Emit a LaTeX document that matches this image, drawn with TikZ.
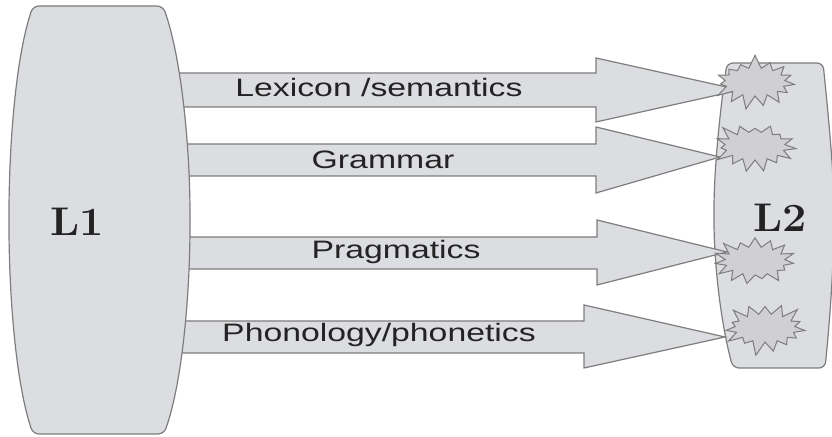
\documentclass[tikz,border=0pt]{standalone}
\usepackage{fontspec}
\usepackage{tikz}
\usetikzlibrary{shapes.symbols}
\newfontfamily\arialfont{Liberation Sans}
\definecolor{boxfill}{RGB}{220,221,224}
\definecolor{burstfill}{RGB}{208,208,210}
\definecolor{edgegray}{RGB}{125,125,125}
\definecolor{inkgray}{RGB}{35,35,35}

\begin{document}
\begin{tikzpicture}[x=0.5pt, y=-0.5pt,
    lang/.style={fill=boxfill, draw=edgegray, line width=0.6pt, rounded corners=3pt},
    band/.style={fill=boxfill, draw=edgegray, line width=0.6pt},
    burst/.style={starburst, fill=burstfill, draw=edgegray, line width=0.5pt, minimum width=44pt, minimum height=28pt, starburst points=15, starburst point height=7pt, inner sep=0pt},
    lbl/.style={font=\arialfont\fontsize{12.6}{14}\selectfont, text=inkgray, xscale=1.34, transform shape, inner sep=0pt},
    big/.style={font=\fontsize{20}{22}\selectfont\bfseries, text=inkgray, xscale=1.08, transform shape, inner sep=0pt}]
    \useasboundingbox (0,0) rectangle (832,437);

    % L2 block
    \draw[lang] (714,215) .. controls (714,170) and (720,110) .. (727,63) -- (823,63)
        .. controls (830,130) and (834,180) .. (834,215)
        .. controls (834,260) and (830,320) .. (825,368) -- (733,368)
        .. controls (720,320) and (714,260) .. cycle;

    % Arrows
    \draw[band] (170,73) -- (596,73) -- (596,58) -- (740,90) -- (596,122) -- (596,107) -- (170,107) -- cycle;
    \draw[band] (170,144) -- (596,144) -- (596,127) -- (720,157) -- (596,193) -- (596,176) -- (170,176) -- cycle;
    \draw[band] (170,237) -- (597,237) -- (597,220) -- (727,252) -- (597,285) -- (597,269) -- (170,269) -- cycle;
    \draw[band] (170,321) -- (584,321) -- (584,305) -- (725,337) -- (584,368) -- (584,353) -- (170,353) -- cycle;

    % L1 block
    \draw[lang] (9,220) .. controls (9,150) and (15,60) .. (33,6) -- (163,6)
        .. controls (182,60) and (190,150) .. (190,220)
        .. controls (190,290) and (183,380) .. (164,434) -- (33,434)
        .. controls (15,380) and (9,290) .. cycle;

    % Labels
    \node[big] (l1) at (77,222) {L1};
    \node[big] (l2) at (780,218) {L2};
    \node[lbl] (lex) at (379,88) {Lexicon /semantics};
    \node[lbl] (gram) at (383,160) {Grammar};
    \node[lbl] (prag) at (396,252) {Pragmatics};
    \node[lbl] (phon) at (379,335) {Phonology/phonetics};

    % Starbursts at the tips
    \node[burst, random starburst=7] (s1) at (755,82) {};
    \node[burst, random starburst=23] (s2) at (755,146) {};
    \node[burst, random starburst=41] (s3) at (755,261) {};
    \node[burst, random starburst=58] (s4) at (765,328) {};
\end{tikzpicture}
\end{document}
